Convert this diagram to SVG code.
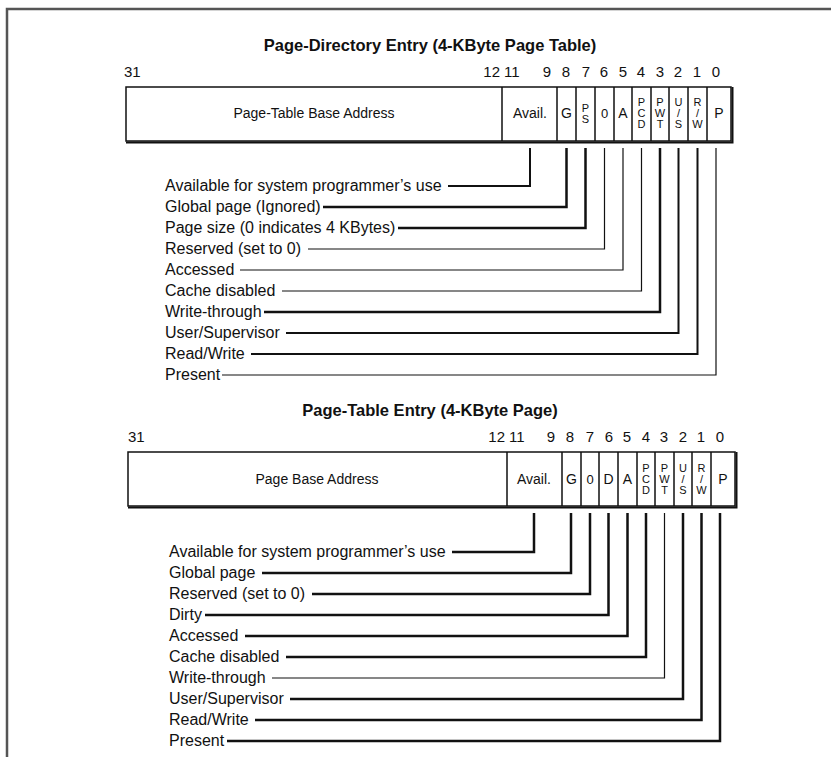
<svg xmlns="http://www.w3.org/2000/svg" width="831" height="757" viewBox="0 0 831 757">
<style>
text{font-family:"Liberation Sans",Arial,sans-serif;fill:#111}
.title{font-size:16.5px;font-weight:bold;text-anchor:middle}
.bit{font-size:15px}
.lbl{font-size:16px}
.cell{font-size:14px;text-anchor:middle}
.zero{font-size:13px;text-anchor:middle}
.sm{font-size:11px;text-anchor:middle}
.box{fill:#fff;stroke:#111;stroke-width:1.5}
.div{stroke:#111;stroke-width:1.5}
.shadow{stroke:#111;stroke-width:2;fill:none}
.c{fill:none;stroke:#111}
.t{stroke-width:1.2}
.k{stroke-width:2.5}
.m{stroke-width:2}
</style>
<g id="frame"><path d="M7,757 V9 H831" fill="none" stroke="#555" stroke-width="2.5"/></g>

<g id="pde">
<text class="title" x="430" y="51">Page-Directory Entry (4-KByte Page Table)</text>
<g class="bit">
<text x="124" y="77">31</text>
<text x="500" y="77" text-anchor="end">12</text>
<text x="504" y="77">11</text>
<text x="547" y="77" text-anchor="middle">9</text>
<text x="566" y="77" text-anchor="middle">8</text>
<text x="586" y="77" text-anchor="middle">7</text>
<text x="604" y="77" text-anchor="middle">6</text>
<text x="623" y="77" text-anchor="middle">5</text>
<text x="641" y="77" text-anchor="middle">4</text>
<text x="660" y="77" text-anchor="middle">3</text>
<text x="678" y="77" text-anchor="middle">2</text>
<text x="697" y="77" text-anchor="middle">1</text>
<text x="716" y="77" text-anchor="middle">0</text>
</g>
<rect class="box" x="126" y="87" width="605" height="54"/>
<path class="shadow" d="M126,142.5 H732.5 V87"/>
<path class="div" d="M502,87V141 M557,87V141 M576,87V141 M595,87V141 M614,87V141 M632,87V141 M651,87V141 M669,87V141 M688,87V141 M707,87V141"/>
<text class="cell" x="314" y="118">Page-Table Base Address</text>
<text class="cell" x="530" y="118">Avail.</text>
<text class="cell" x="566.5" y="118">G</text>
<text class="sm" x="585.5" y="112">P</text><text class="sm" x="585.5" y="123">S</text>
<text class="zero" x="604.5" y="118">0</text>
<text class="cell" x="623" y="118">A</text>
<text class="sm" x="641.5" y="106">P</text><text class="sm" x="641.5" y="117">C</text><text class="sm" x="641.5" y="128">D</text>
<text class="sm" x="660" y="106">P</text><text class="sm" x="660" y="117">W</text><text class="sm" x="660" y="128">T</text>
<text class="sm" x="678.5" y="106">U</text><text class="sm" x="678.5" y="117">/</text><text class="sm" x="678.5" y="128">S</text>
<text class="sm" x="697.5" y="106">R</text><text class="sm" x="697.5" y="117">/</text><text class="sm" x="697.5" y="128">W</text>
<text class="cell" x="719" y="118">P</text>
<g class="lbl">
<text x="165" y="191">Available for system programmer’s use</text>
<text x="165" y="212">Global page (Ignored)</text>
<text x="165" y="233">Page size (0 indicates 4 KBytes)</text>
<text x="165" y="254">Reserved (set to 0)</text>
<text x="165" y="275">Accessed</text>
<text x="165" y="296">Cache disabled</text>
<text x="165" y="317">Write-through</text>
<text x="165" y="338">User/Supervisor</text>
<text x="165" y="359">Read/Write</text>
<text x="165" y="380">Present</text>
</g>
</g>

<g id="pte">
<text class="title" x="430" y="416">Page-Table Entry (4-KByte Page)</text>
<g class="bit">
<text x="128" y="442">31</text>
<text x="505" y="442" text-anchor="end">12</text>
<text x="509" y="442">11</text>
<text x="551" y="442" text-anchor="middle">9</text>
<text x="570" y="442" text-anchor="middle">8</text>
<text x="590" y="442" text-anchor="middle">7</text>
<text x="609" y="442" text-anchor="middle">6</text>
<text x="627" y="442" text-anchor="middle">5</text>
<text x="646" y="442" text-anchor="middle">4</text>
<text x="664" y="442" text-anchor="middle">3</text>
<text x="683" y="442" text-anchor="middle">2</text>
<text x="701" y="442" text-anchor="middle">1</text>
<text x="720" y="442" text-anchor="middle">0</text>
</g>
<rect class="box" x="128" y="452" width="607" height="54"/>
<path class="shadow" d="M128,507.5 H736.5 V452"/>
<path class="div" d="M507,452V506 M562,452V506 M581,452V506 M599,452V506 M618,452V506 M637,452V506 M655,452V506 M674,452V506 M692,452V506 M711,452V506"/>
<text class="cell" x="317" y="484">Page Base Address</text>
<text class="cell" x="534" y="484">Avail.</text>
<text class="cell" x="571.5" y="484">G</text>
<text class="zero" x="590" y="484">0</text>
<text class="cell" x="608.5" y="484">D</text>
<text class="cell" x="627.5" y="484">A</text>
<text class="sm" x="646" y="472">P</text><text class="sm" x="646" y="483">C</text><text class="sm" x="646" y="494">D</text>
<text class="sm" x="664.5" y="472">P</text><text class="sm" x="664.5" y="483">W</text><text class="sm" x="664.5" y="494">T</text>
<text class="sm" x="683" y="472">U</text><text class="sm" x="683" y="483">/</text><text class="sm" x="683" y="494">S</text>
<text class="sm" x="701.5" y="472">R</text><text class="sm" x="701.5" y="483">/</text><text class="sm" x="701.5" y="494">W</text>
<text class="cell" x="723" y="484">P</text>
<g class="lbl">
<text x="169" y="557">Available for system programmer’s use</text>
<text x="169" y="578">Global page</text>
<text x="169" y="599">Reserved (set to 0)</text>
<text x="169" y="620">Dirty</text>
<text x="169" y="641">Accessed</text>
<text x="169" y="662">Cache disabled</text>
<text x="169" y="683">Write-through</text>
<text x="169" y="704">User/Supervisor</text>
<text x="169" y="725">Read/Write</text>
<text x="169" y="746">Present</text>
</g>
</g>

<g id="connectors">
<path class="c m" d="M448,186 H530 V148"/>
<path class="c k" d="M323,207 H566.5 V148"/>
<path class="c k" d="M398,228 H585.5 V148"/>
<path class="c t" d="M308,249 H604.5 V148"/>
<path class="c t" d="M240,270 H623 V148"/>
<path class="c t" d="M282,291 H641.5 V148"/>
<path class="c k" d="M264,312 H660 V148"/>
<path class="c m" d="M286,333 H678.5 V148"/>
<path class="c m" d="M251,354 H697.5 V148"/>
<path class="c t" d="M222,375 H716 V148"/>

<path class="c k" d="M452,552 H534 V513"/>
<path class="c k" d="M262,573 H571 V513"/>
<path class="c k" d="M312,594 H590 V513"/>
<path class="c k" d="M205,615 H608.5 V513"/>
<path class="c k" d="M245,636 H627.5 V513"/>
<path class="c k" d="M286,657 H646 V513"/>
<path class="c t" d="M272,678 H664.5 V513"/>
<path class="c k" d="M290,699 H683 V513"/>
<path class="c k" d="M255,720 H701.5 V513"/>
<path class="c k" d="M227,741 H720 V513"/>
</g>
</svg>
